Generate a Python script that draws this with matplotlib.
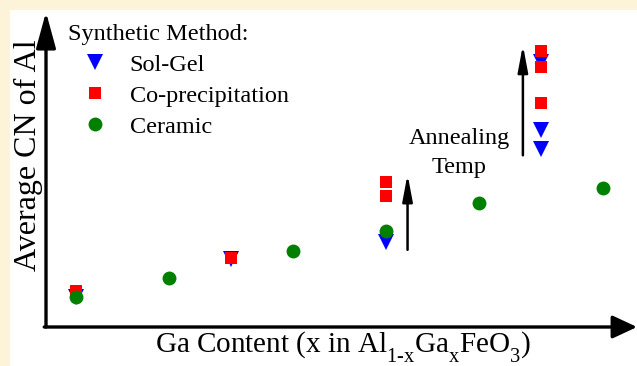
import matplotlib
matplotlib.use("Agg")
import matplotlib.pyplot as plt
import matplotlib._mathtext as mathtext_internal

plt.rcParams["font.family"] = "Liberation Serif"
plt.rcParams["mathtext.fontset"] = "custom"
plt.rcParams["mathtext.rm"] = "Liberation Serif"
plt.rcParams["mathtext.it"] = "Liberation Serif:italic"
# drop subscripts well below the baseline (equation-editor look)
mathtext_internal.FontConstantsBase.sub1 = 0.75

# Ga content (x) and average Al coordination number per synthesis route
solgel_x = [0.0, 0.25, 0.5, 0.75, 0.75, 0.75]
solgel_cn = [4.19, 4.43, 4.54, 5.68, 5.25, 5.13]

coprec_x = [0.0, 0.25, 0.5, 0.5, 0.75, 0.75, 0.75]
coprec_cn = [4.23, 4.44, 4.92, 4.83, 5.75, 5.65, 5.42]

ceramic_x = [0.0, 0.15, 0.35, 0.5, 0.65, 0.85]
ceramic_cn = [4.19, 4.31, 4.48, 4.61, 4.79, 4.88]

CREAM = "#fdf3d9"

fig = plt.figure(figsize=(6.37, 3.66), dpi=100, facecolor=CREAM)

# white panel inside the cream frame
bg = fig.add_axes([10 / 637, 0, 627 / 637, 356 / 366], zorder=0)
bg.set_facecolor("white")
bg.set_xticks([])
bg.set_yticks([])
for s in bg.spines.values():
    s.set_visible(False)

ax = fig.add_axes([46 / 637, 39 / 366, 591 / 637, 315 / 366], zorder=1)
ax.set_facecolor("none")
ax.set_xlim(-0.048, 0.905)
ax.set_ylim(4.0, 6.0)
for s in ax.spines.values():
    s.set_visible(False)
ax.set_xticks([])
ax.set_yticks([])

# axes drawn as arrows
axis_arrow = dict(arrowstyle="-|>,head_length=1.1,head_width=0.3", lw=2.4, color="black",
                  mutation_scale=20, shrinkA=0, shrinkB=0)
ax.annotate("", xy=(0, 1), xytext=(0, 0), xycoords="axes fraction",
            arrowprops=axis_arrow, annotation_clip=False)
ax.annotate("", xy=(1, 0), xytext=(-0.003, 0), xycoords="axes fraction",
            arrowprops=dict(axis_arrow, arrowstyle="-|>,head_length=0.75,head_width=0.35"),
            annotation_clip=False)

ax.plot(solgel_x, solgel_cn, "v", color="#0000ff", ms=11, mew=0, label="Sol-Gel")
ax.plot(coprec_x, coprec_cn, "s", color="#ff0000", ms=9.2, mew=0, label="Co-precipitation")
ax.plot(ceramic_x, ceramic_cn, "o", color="#008000", ms=10, mew=0, label="Ceramic")

# annealing arrows
temp_arrow = dict(arrowstyle="-|>,head_length=0.8,head_width=0.15", lw=1.8, color="black",
                  mutation_scale=20, shrinkA=0, shrinkB=0)
ax.annotate("", xy=(0.535, 4.97), xytext=(0.535, 4.49), arrowprops=temp_arrow)
ax.annotate("", xy=(0.721, 5.79), xytext=(0.721, 5.09), arrowprops=temp_arrow)
ax.text(0.618, 5.105, "Annealing\nTemp", ha="center", va="center", fontsize=17.5,
        linespacing=1.5)

leg = ax.legend(title="Synthetic Method:", loc="upper left", bbox_to_anchor=(0.037, 0.963),
                frameon=False, fontsize=17.5, title_fontsize=17.5, handlelength=2.2,
                handletextpad=0.35, labelspacing=0.37, borderpad=0, borderaxespad=0,
                alignment="left")

ax.set_ylabel("Average CN of Al", fontsize=23)
ax.yaxis.set_label_coords(-0.005, 0.544)
ax.set_xlabel("Ga Content (x in Al$_{\\mathrm{1\u2010x}}$Ga$_{\\mathrm{x}}$FeO$_{\\mathrm{3}}$)",
              fontsize=21)
ax.xaxis.set_label_coords(0.503, -0.008)

fig.savefig("out.png", dpi=100, facecolor=CREAM)
